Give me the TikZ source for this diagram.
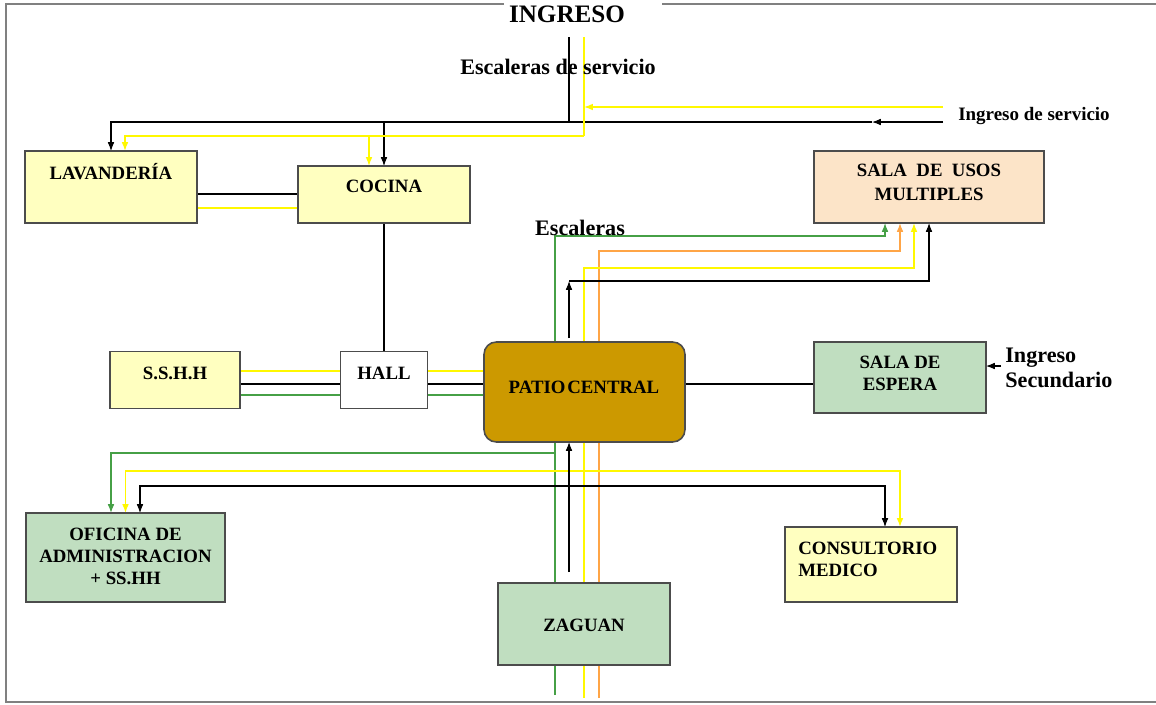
\documentclass[tikz,border=0pt]{standalone}
\usepackage{fontspec}
\setmainfont{Liberation Serif}
\usepackage{xcolor}
\usetikzlibrary{positioning,arrows.meta,backgrounds}

\definecolor{roomyel}{RGB}{255,255,192}
\definecolor{roomgrn}{RGB}{192,222,192}
\definecolor{roompch}{RGB}{252,228,200}
\definecolor{patiobrn}{RGB}{204,153,0}
\definecolor{lnyel}{RGB}{255,248,0}
\definecolor{lngrn}{RGB}{70,160,70}
\definecolor{lnorg}{RGB}{255,165,70}

\begin{document}
\begin{tikzpicture}[
    x=0.02cm, y=-0.02cm,
    room/.style={rectangle, draw=black!70, line width=0.9pt, inner sep=0pt, outer sep=0pt},
    txt/.style={font=\fontsize{10.7}{12.5}\selectfont\bfseries, align=center, inner sep=0pt},
    note/.style={font=\fontsize{12.6}{14.5}\selectfont\bfseries, inner sep=0pt},
    arrow/.style={-{Latex[length=5pt,width=3.8pt]}},
    wk/.style={draw=black, line width=0.6pt},
    ylw/.style={draw=lnyel, line width=0.8pt},
    grn/.style={draw=lngrn, line width=0.7pt},
    org/.style={draw=lnorg, line width=0.7pt},
    edgeline/.style={draw=black!50, line width=1.1pt}
]
    \useasboundingbox (0,0) rectangle (1156,704);

    % rooms
    \node[room, fill=roomyel, minimum width=3.44cm, minimum height=1.44cm] (lav) at (111,187) {};
    \node[room, fill=roomyel, minimum width=3.44cm, minimum height=1.14cm] (cocina) at (384,194.5) {};
    \node[room, fill=roompch, minimum width=4.6cm, minimum height=1.44cm] (sum) at (929,187) {};
    \node[room, fill=roomyel, minimum width=2.6cm, minimum height=1.14cm] (sshh) at (175,380) {};
    \node[room, fill=white, minimum width=1.74cm, minimum height=1.14cm] (hall) at (384,380) {};
    \node[room, fill=patiobrn, rounded corners=7pt, minimum width=4.02cm, minimum height=2cm] (patio) at (584.5,392) {};
    \node[room, fill=roomgrn, minimum width=3.44cm, minimum height=1.42cm] (espera) at (900,377.5) {};
    \node[room, fill=roomgrn, minimum width=3.98cm, minimum height=1.78cm] (ofic) at (125.5,557.5) {};
    \node[room, fill=roomyel, minimum width=3.44cm, minimum height=1.5cm] (consul) at (871,564.5) {};
    \node[room, fill=roomgrn, minimum width=3.44cm, minimum height=1.64cm] (zaguan) at (584,624) {};

    \node[txt] (lavtxt) at (111,172) {LAVANDERÍA};
    \node[txt] (cocinatxt) at (384,186) {COCINA};
    \node[txt, font=\fontsize{10.7}{13.6}\selectfont\bfseries] (sumtxt) at (929,182) {SALA~ DE~ USOS\\MULTIPLES};
    \node[txt] (sshhtxt) at (175,373) {S.S.H.H};
    \node[txt] (halltxt) at (384,373) {HALL};
    \node[txt] (patiotxt) at (584,387) {PATIO\hspace{0.1em}CENTRAL};
    \node[txt] (esperatxt) at (900,373) {SALA DE\\ESPERA};
    \node[txt] (ofictxt) at (125.5,556) {OFICINA DE\\ADMINISTRACION\\+ SS.HH};
    \node[txt, align=left, anchor=west] (consultxt) at (798,559) {CONSULTORIO\\MEDICO};
    \node[txt] (zaguantxt) at (584,625) {ZAGUAN};

    % labels
    \node[note, font=\fontsize{14.3}{16}\selectfont\bfseries] (ingreso) at (567,14) {INGRESO};
    \node[note] (escserv) at (558,67) {Escaleras de servicio};
    \node[note, font=\fontsize{10.8}{12}\selectfont\bfseries] (ingserv) at (1034,116) {Ingreso de servicio};
    \node[note] (escal) at (580,228) {Escaleras};
    \node[note, align=left, anchor=west] (ingsec) at (1005,368) {Ingreso\\Secundario};

    % frame
    \draw[edgeline] (504,4) -- (6,4) -- (6,702) -- (1156,702);
    \draw[edgeline] (662,4) -- (1156,4);

    \coordinate (ingk) at (569,37);
    \coordinate (ingy) at (584,37);
    \coordinate (jk) at (569,122);
    \coordinate (svck) at (943,122);
    \coordinate (svckm) at (872,122);
    \coordinate (svcy) at (943,107);
    \coordinate (jy) at (584,107);
    \coordinate (cy) at (584,136);
    \coordinate (gbot) at (555,695);
    \coordinate (gtop) at (555,236);
    \coordinate (ybot) at (584,698);
    \coordinate (ytop) at (584,268);
    \coordinate (obot) at (599,698);
    \coordinate (otop) at (599,251);
    \coordinate (kup) at (569,281);
    \coordinate (gjn) at (555,453);
    \coordinate (yjn) at (584,471);
    \coordinate (kjn) at (569,486);
    \coordinate (isec) at (1001,366);

    \begin{pgfonlayer}{background}
        % service entrance
        \draw[wk] (ingk) -- (jk);
        \draw[wk, arrow] (svck) -- (svckm);
        \draw[wk, arrow] (svckm) -| (lav.north);
        \draw[wk, arrow] (cocina.north |- jk) -- (cocina.north);
        \draw[ylw, arrow] (svcy) -- (jy);
        \draw[ylw] (ingy) -- (cy);
        \draw[ylw, arrow] (cy) -| ([xshift=0.28cm]lav.north);
        \draw[ylw, arrow] ([xshift=-0.3cm]cocina.north |- cy) -- ([xshift=-0.3cm]cocina.north);

        \coordinate (lck) at ([yshift=-0.14cm]lav.east);
        \coordinate (lcy) at ([yshift=-0.42cm]lav.east);
        \draw[wk] (lck) -- (lck -| cocina.west);
        \draw[ylw] (lcy) -- (lcy -| cocina.west);
        \draw[wk] (cocina.south) -- (hall.north);

        % hall
        \coordinate (sy) at ([yshift=0.18cm]sshh.east);
        \coordinate (sk) at ([yshift=-0.08cm]sshh.east);
        \coordinate (sg) at ([yshift=-0.3cm]sshh.east);
        \draw[ylw] (sy) -- (sy -| hall.west);
        \draw[wk] (sk) -- (sk -| hall.west);
        \draw[grn] (sg) -- (sg -| hall.west);
        \draw[ylw] (sy -| hall.east) -- (sy -| patio.west);
        \draw[wk] (sk -| hall.east) -- (sk -| patio.west);
        \draw[grn] (sg -| hall.east) -- (sg -| patio.west);

        % patio - espera
        \coordinate (pe) at ([yshift=-0.13cm]espera.west);
        \draw[wk] (pe -| patio.east) -- (pe);
        \draw[wk, arrow] (isec) -- (isec -| espera.east);

        % escaleras
        \draw[grn, arrow] (gbot) -- (gtop) -| ([xshift=-0.88cm]sum.south);
        \draw[org, arrow] (obot) -- (otop) -| ([xshift=-0.58cm]sum.south);
        \draw[ylw, arrow] (ybot) -- (ytop) -| ([xshift=-0.3cm]sum.south);
        \coordinate (pk) at ([xshift=-0.31cm,yshift=0.08cm]patio.north);
        \draw[wk, arrow] (pk) -- (pk |- kup);
        \draw[wk, arrow] (kup) -| (sum.south);

        % lower branches
        \draw[grn, arrow] (gjn) -| ([xshift=-0.29cm]ofic.north);
        \draw[ylw, arrow] (yjn) -| (ofic.north);
        \draw[ylw, arrow] (yjn) -| ([xshift=0.58cm]consul.north);
        \draw[wk, arrow] (kjn) -| ([xshift=0.29cm]ofic.north);
        \draw[wk, arrow] (kjn) -| ([xshift=0.28cm]consul.north);
        \coordinate (zk) at ([xshift=-0.3cm,yshift=0.22cm]zaguan.north);
        \draw[wk, arrow] (zk) -- (zk |- patio.south);
    \end{pgfonlayer}
\end{tikzpicture}
\end{document}
